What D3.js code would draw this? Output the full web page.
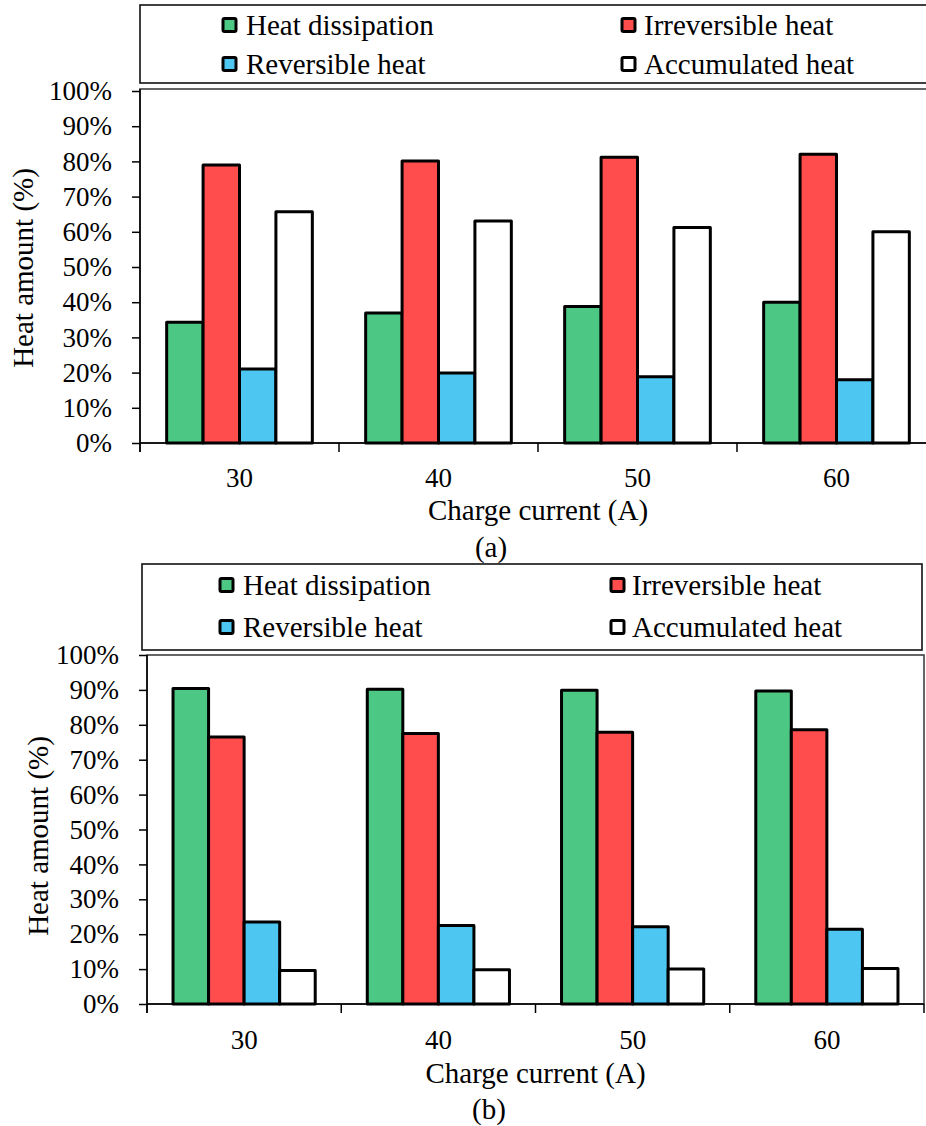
<!DOCTYPE html>
<html>
<head>
<meta charset="utf-8">
<script src="https://cdn.jsdelivr.net/npm/d3@7/dist/d3.min.js"></script>
<style>
  html, body { margin: 0; padding: 0; background: #fff; }
  svg { display: block; }
  text { font-family: "Liberation Serif", "Times New Roman", serif; fill: #000; }
</style>
</head>
<body>
<svg id="chart" width="926" height="1126"></svg>
<script>
// ---------- data ----------
const categories = ["30", "40", "50", "60"];
const seriesNames = ["Heat dissipation", "Irreversible heat", "Reversible heat", "Accumulated heat"];
const seriesColors = ["#4dc884", "#ff4c4c", "#4dc7f2", "#ffffff"];
const yTickValues = [0, 10, 20, 30, 40, 50, 60, 70, 80, 90, 100];
const xAxisTitle = "Charge current (A)";
const yAxisTitle = "Heat amount (%)";

// panel (a)
const a_heatDissipation = [34.3, 36.9, 38.8, 40.0];
const a_irreversible    = [79.0, 80.1, 81.2, 82.0];
const a_reversible      = [21.0, 19.9, 18.8, 18.0];
const a_accumulated     = [65.7, 63.1, 61.2, 60.0];

// panel (b)
const b_heatDissipation = [90.4, 90.2, 89.9, 89.7];
const b_irreversible    = [76.5, 77.5, 77.9, 78.6];
const b_reversible      = [23.5, 22.5, 22.1, 21.4];
const b_accumulated     = [9.6, 9.8, 10.0, 10.2];

const svg = d3.select("#chart");

function drawPanel(cfg, seriesValues) {
  const g = svg.append("g");
  const x = d3.scaleBand().domain(categories).range([cfg.left, cfg.right]).padding(0);
  const y = d3.scaleLinear().domain([0, 100]).range([cfg.bottom, cfg.top]);
  const xs = d3.scaleBand().domain(seriesNames)
    .range([x.bandwidth() * 0.134, x.bandwidth() * 0.866]).padding(0);

  // legend box
  g.append("rect")
    .attr("x", cfg.legend.x).attr("y", cfg.legend.y)
    .attr("width", cfg.legend.w).attr("height", cfg.legend.h)
    .attr("fill", "#fff").attr("stroke", "#111").attr("stroke-width", 1.6);

  seriesNames.forEach((name, i) => {
    const col = i % 2, row = Math.floor(i / 2);
    const sx = cfg.legend.sq[col], cy = cfg.legend.rows[row];
    g.append("rect")
      .attr("x", sx).attr("y", cy - 6.5).attr("width", 13).attr("height", 13)
      .attr("rx", 1.5)
      .attr("fill", seriesColors[i]).attr("stroke", "#000").attr("stroke-width", 3);
    g.append("text")
      .attr("x", cfg.legend.tx[col]).attr("y", cy).attr("dy", "0.35em")
      .attr("font-size", 29).text(name);
  });

  // plot frame
  g.append("rect")
    .attr("x", cfg.left).attr("y", cfg.frameTop)
    .attr("width", cfg.right - cfg.left).attr("height", cfg.bottom - cfg.frameTop)
    .attr("fill", "none").attr("stroke", "#333").attr("stroke-width", 1.5);

  // bars
  const groups = g.append("g").selectAll("g").data(categories).join("g")
    .attr("transform", c => `translate(${x(c)},0)`);
  groups.selectAll("rect")
    .data((c, ci) => seriesNames.map((s, si) => ({ s, si, v: seriesValues[si][ci] })))
    .join("rect")
    .attr("x", d => xs(d.s))
    .attr("width", xs.bandwidth())
    .attr("y", d => y(d.v))
    .attr("height", d => y(0) - y(d.v))
    .attr("fill", d => seriesColors[d.si])
    .attr("stroke", "#000").attr("stroke-width", 3)
    .attr("stroke-linejoin", "round");

  // y axis
  const yAxis = d3.axisLeft(y).tickValues(yTickValues)
    .tickFormat(d => d + "%").tickSize(8).tickPadding(20);
  const ya = g.append("g").attr("transform", `translate(${cfg.left},0)`).call(yAxis);
  ya.select(".domain").remove();
  ya.selectAll(".tick line").attr("stroke", "#000").attr("stroke-width", 1.5);
  ya.selectAll(".tick text").attr("font-size", 27).attr("font-family", "Liberation Serif").attr("fill", "#000");
  g.append("line")
    .attr("x1", cfg.left).attr("x2", cfg.left)
    .attr("y1", cfg.frameTop).attr("y2", cfg.bottom + 9)
    .attr("stroke", "#000").attr("stroke-width", 1.5);

  // x axis
  g.append("line")
    .attr("x1", cfg.left).attr("x2", cfg.right)
    .attr("y1", cfg.bottom).attr("y2", cfg.bottom)
    .attr("stroke", "#000").attr("stroke-width", 1.5);
  const boundaries = categories.map(c => x(c)).concat([cfg.right]);
  g.selectAll("line.xtick").data(boundaries).join("line")
    .attr("class", "xtick")
    .attr("x1", d => d).attr("x2", d => d)
    .attr("y1", cfg.bottom).attr("y2", cfg.bottom + 9)
    .attr("stroke", "#000").attr("stroke-width", 1.5);
  g.selectAll("text.xlab").data(categories).join("text")
    .attr("class", "xlab")
    .attr("x", c => x(c) + x.bandwidth() / 2)
    .attr("y", cfg.xLabelY).attr("dy", "0.35em")
    .attr("text-anchor", "middle").attr("font-size", 27).text(c => c);

  // titles
  g.append("text")
    .attr("x", (cfg.left + cfg.right) / 2).attr("y", cfg.xTitleY).attr("dy", "0.35em")
    .attr("text-anchor", "middle").attr("font-size", 29).text(xAxisTitle);
  g.append("text")
    .attr("transform", `translate(${cfg.yTitleX},${cfg.yTitleY}) rotate(-90)`)
    .attr("dy", "0.35em")
    .attr("text-anchor", "middle").attr("font-size", 29).text(yAxisTitle);
  g.append("text")
    .attr("x", cfg.captionX).attr("y", cfg.captionY).attr("dy", "0.35em")
    .attr("text-anchor", "middle").attr("font-size", 29).text(cfg.caption);
}

drawPanel({
  left: 140, right: 936, top: 91, bottom: 443, frameTop: 89,
  legend: { x: 140, y: 5, w: 800, h: 78, sq: [223, 622], tx: [246, 644], rows: [25, 64] },
  xLabelY: 478, xTitleY: 510, yTitleX: 23, yTitleY: 268,
  captionX: 491, captionY: 547, caption: "(a)"
}, [a_heatDissipation, a_irreversible, a_reversible, a_accumulated]);

drawPanel({
  left: 147, right: 924, top: 655, bottom: 1004, frameTop: 655,
  legend: { x: 142, y: 564, w: 780, h: 86, sq: [220, 611], tx: [243, 632], rows: [585, 627] },
  xLabelY: 1040, xTitleY: 1073, yTitleX: 38, yTitleY: 836,
  captionX: 489, captionY: 1109, caption: "(b)"
}, [b_heatDissipation, b_irreversible, b_reversible, b_accumulated]);
</script>
</body>
</html>
